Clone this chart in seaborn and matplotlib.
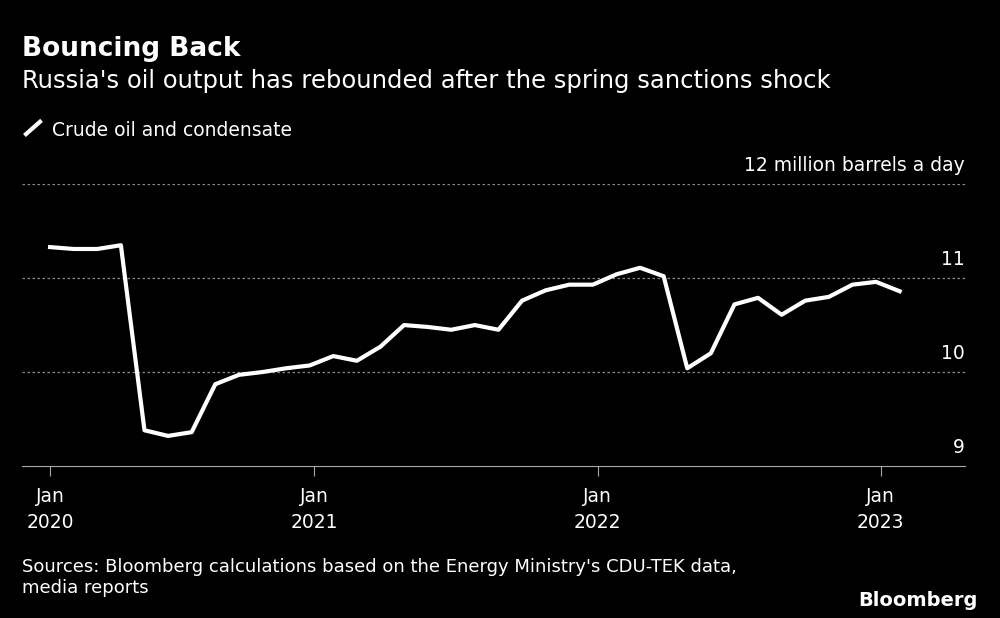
import matplotlib
matplotlib.use("Agg")
import matplotlib.pyplot as plt
import seaborn as sns
import pandas as pd

months = list(range(37))
output = [11.33, 11.31, 11.31, 11.35, 9.38, 9.32, 9.36, 9.87, 9.97, 10.0, 10.04, 10.07,
          10.17, 10.12, 10.27, 10.5, 10.48, 10.45, 10.5, 10.45, 10.76, 10.87, 10.93, 10.93,
          11.04, 11.11, 11.02, 10.04, 10.2, 10.72, 10.79, 10.61, 10.76, 10.8, 10.93, 10.96, 10.86]
tick_pos = [0, 11.2, 23.2, 35.2]
tick_labels = ["Jan\n2020", "Jan\n2021", "Jan\n2022", "Jan\n2023"]
y_ticks = [9, 10, 11, 12]
y_labels = ["9", "10", "11", "12 million barrels a day"]

df = pd.DataFrame({"month": months, "output": output})
plt.rcParams["font.family"] = "DejaVu Sans"
fig = plt.figure(figsize=(10, 6.18), dpi=100, facecolor="black")
ax = fig.add_axes([0.022, 0.246, 0.943, 0.456], facecolor="black")
sns.lineplot(data=df, x="month", y="output", color="white", linewidth=3, ax=ax)
ax.set_xlim(-1.19, 38.77)
ax.set_ylim(9, 12)
for v in [10, 11, 12]:
    ax.axhline(v, color="#888888", linestyle=(0, (2, 2)), linewidth=0.9, zorder=0)
for s in ["top", "right", "left"]:
    ax.spines[s].set_visible(False)
ax.spines["bottom"].set_color("#aaaaaa")
ax.set_xticks(tick_pos)
ax.set_xticklabels(tick_labels, color="white", fontsize=13.5, linespacing=1.5)
ax.tick_params(axis="x", color="#aaaaaa", length=7, pad=8)
ax.set_yticks([])
ax.set_xlabel(""); ax.set_ylabel("")
for v, l in zip(y_ticks, y_labels):
    ax.text(1.0, v + 0.1, l, transform=ax.get_yaxis_transform(), ha="right", va="bottom",
            color="white", fontsize=13.5)
fig.text(0.022, 0.91, "Bouncing Back", color="white", fontsize=19, fontweight="bold")
fig.text(0.022, 0.858, "Russia's oil output has rebounded after the spring sanctions shock",
         color="white", fontsize=17.5)
fig.lines.append(plt.Line2D([0.026, 0.04], [0.783, 0.803], transform=fig.transFigure,
                            color="white", linewidth=3))
fig.text(0.052, 0.78, "Crude oil and condensate", color="white", fontsize=13.5)
fig.text(0.022, 0.04, "Sources: Bloomberg calculations based on the Energy Ministry's CDU-TEK data,\nmedia reports",
         color="white", fontsize=13, linespacing=1.2)
fig.text(0.978, 0.02, "Bloomberg", color="white", fontsize=14, fontweight="bold", ha="right")
fig.savefig("out.png", dpi=100, facecolor="black")
